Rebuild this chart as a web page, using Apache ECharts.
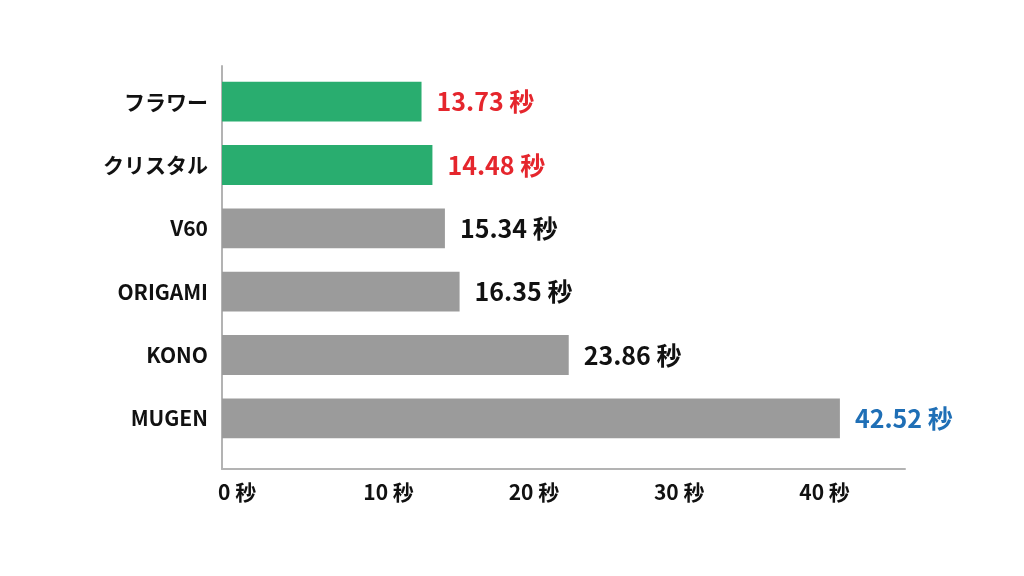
<!DOCTYPE html>
<html>
<head>
<meta charset="utf-8">
<script src="https://cdn.jsdelivr.net/npm/echarts@6/dist/echarts.min.js"></script>
<style>
html,body{margin:0;padding:0;background:#fff;}
#c{width:1024px;height:576px;}
</style>
</head>
<body>
<div id="c"></div>
<script>
const categories = ['フラワー', 'クリスタル', 'V60', 'ORIGAMI', 'KONO', 'MUGEN'];
const times = [13.73, 14.48, 15.34, 16.35, 23.86, 42.52];
const xTicks = [0, 10, 20, 30, 40];

const barColors = ['#29ad6f', '#29ad6f', '#9b9b9b', '#9b9b9b', '#9b9b9b', '#9b9b9b'];
const labelColors = ['#e5262d', '#e5262d', '#111111', '#111111', '#111111', '#1f6fb6'];

const FONT = '"Noto Sans CJK JP", "Noto Sans", sans-serif';
const AXIS_MAX = 47;
const GRID_LEFT = 222, GRID_RIGHT = 119;

const chart = echarts.init(document.getElementById('c'));
chart.setOption({
  backgroundColor: '#ffffff',
  animation: false,
  grid: [
    { left: GRID_LEFT, right: GRID_RIGHT, top: 70, bottom: 126 },
    { left: GRID_LEFT, right: GRID_RIGHT, top: 66, bottom: 107 }
  ],
  xAxis: [
    { type: 'value', gridIndex: 0, min: 0, max: AXIS_MAX, show: false },
    {
      type: 'value', gridIndex: 1, min: 0, max: AXIS_MAX, interval: 10,
      axisLine: { show: true, lineStyle: { color: '#b3b3b3', width: 2 } },
      axisTick: { show: false },
      splitLine: { show: false },
      axisLabel: {
        showMaxLabel: false,
        margin: 13,
        align: 'left',
        padding: [0, 0, 0, -4],
        color: '#111',
        fontFamily: FONT,
        fontWeight: 'bold',
        fontSize: 21,
        formatter: function (v) { return xTicks.indexOf(v) >= 0 ? v + ' 秒' : ''; }
      }
    }
  ],
  yAxis: [
    {
      type: 'category', gridIndex: 0, data: categories, inverse: true,
      axisLine: { show: false },
      axisTick: { show: false },
      axisLabel: {
        margin: 14,
        color: '#111',
        fontFamily: FONT,
        fontWeight: 'bold',
        fontSize: 21
      }
    },
    {
      type: 'value', gridIndex: 1, min: 0, max: 1,
      axisLine: { show: true, lineStyle: { color: '#b3b3b3', width: 2 } },
      axisTick: { show: false },
      axisLabel: { show: false },
      splitLine: { show: false }
    }
  ],
  series: [{
    type: 'bar',
    xAxisIndex: 0,
    yAxisIndex: 0,
    barCategoryGap: '37%',
    data: times.map(function (v, i) {
      return {
        value: v,
        itemStyle: { color: barColors[i] },
        label: { color: labelColors[i] }
      };
    }),
    label: {
      show: true,
      position: 'right',
      distance: 15,
      fontFamily: FONT,
      fontWeight: 'bold',
      fontSize: 25,
      formatter: function (p) { return p.value.toFixed(2) + ' 秒'; }
    }
  }]
});
</script>
</body>
</html>
